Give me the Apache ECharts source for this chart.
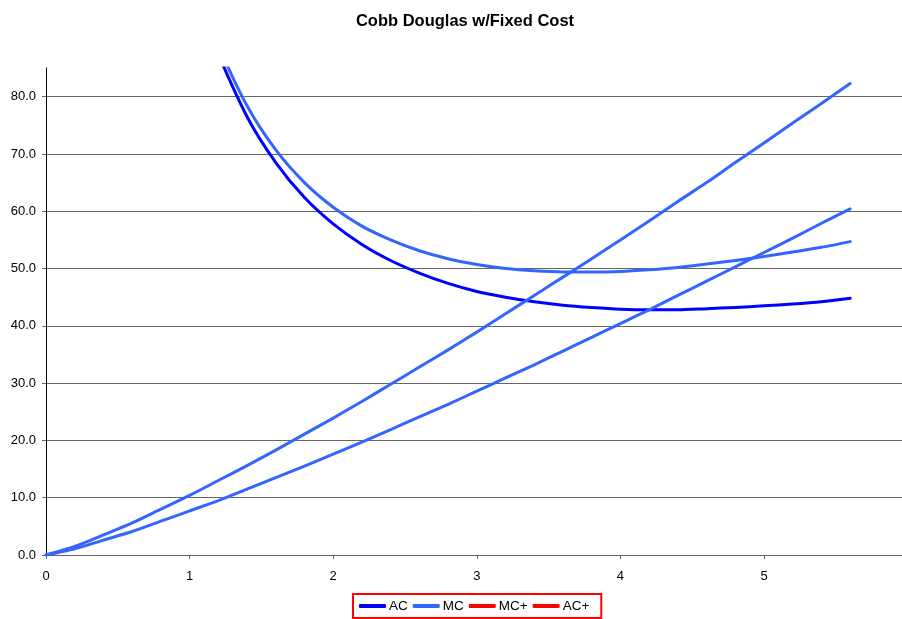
<!DOCTYPE html>
<html>
<head>
<meta charset="utf-8">
<title>Cobb Douglas w/Fixed Cost</title>
<script src="https://cdn.jsdelivr.net/npm/echarts@6/dist/echarts.min.js"></script>
<style>
  html, body { margin: 0; padding: 0; background: #fff; }
  #chart { width: 902px; height: 619px; }
</style>
</head>
<body>
<div id="chart"></div>
<script>
// Output quantity q
const quantity = [0, 0.2, 0.4, 0.6, 0.8, 1.0, 1.2, 1.4, 1.6, 1.8, 2.0, 2.2, 2.4, 2.6, 2.8,
                  3.0, 3.2, 3.4, 3.6, 3.8, 4.0, 4.2, 4.4, 4.6, 4.8, 5.0, 5.2, 5.4, 5.6];

// Average cost (undefined at q = 0)
const acValues = [null, 500.5, 251.1, 168.5, 127.6, 103.4, 87.6, 76.5, 68.5, 62.4, 57.8, 54.2, 51.4, 49.2, 47.4,
                  46.0, 45.0, 44.2, 43.6, 43.2, 42.9, 42.8, 42.8, 43.0, 43.2, 43.5, 43.8, 44.2, 44.8];

// Marginal cost
const mcValues = [0, 1.1, 2.6, 4.1, 5.9, 7.7, 9.5, 11.5, 13.5, 15.5, 17.6, 19.7, 21.9, 24.1, 26.3,
                  28.6, 30.9, 33.2, 35.6, 38.0, 40.4, 42.8, 45.3, 47.8, 50.3, 52.8, 55.3, 57.9, 60.4];

// Marginal cost, higher input price
const mcPlusValues = [0, 1.5, 3.5, 5.6, 8.0, 10.4, 13.0, 15.6, 18.3, 21.1, 23.9, 26.8, 29.8, 32.8, 35.8,
                      38.9, 42.1, 45.3, 48.5, 51.7, 55.0, 58.3, 61.7, 65.0, 68.5, 71.9, 75.4, 78.8, 82.3];

// Average cost, higher input price (undefined at q = 0)
const acPlusValues = [null, 500.7, 251.5, 169.2, 128.6, 104.7, 89.1, 78.4, 70.7, 65.0, 60.7, 57.4, 55.0, 53.1, 51.7,
                      50.7, 50.0, 49.6, 49.4, 49.4, 49.5, 49.8, 50.2, 50.8, 51.4, 52.1, 52.9, 53.7, 54.7];

const xTicks = [0, 1, 2, 3, 4, 5];
const yTicks = [0, 10, 20, 30, 40, 50, 60, 70, 80];

function pairs(values) {
  const out = [];
  quantity.forEach((q, i) => {
    if (values[i] !== null) out.push([q, values[i]]);
  });
  return out;
}

const DARK_BLUE = '#0000FF';
const LIGHT_BLUE = '#3366FF';
const RED = '#FF0000';
const FONT = 'Liberation Sans, Arial, sans-serif';

function lineSeries(name, values, color) {
  return {
    name: name,
    type: 'line',
    data: pairs(values),
    symbol: 'none',
    smooth: 0.25,
    clip: true,
    lineStyle: { color: color, width: 3, cap: 'round', join: 'round' },
    itemStyle: { color: color },
    emphasis: { disabled: true },
    z: 3
  };
}

// Legend keys are flat bars in the key colours
function legendItem(name, color) {
  return { name: name, icon: 'roundRect', itemStyle: { color: color, borderWidth: 0 } };
}

const chart = echarts.init(document.getElementById('chart'), null, { renderer: 'canvas' });

chart.setOption({
  animation: false,
  backgroundColor: '#ffffff',
  title: {
    text: 'Cobb Douglas w/Fixed Cost',
    left: 460,
    textAlign: 'center',
    top: 8,
    textStyle: { fontFamily: FONT, fontSize: 16.5, fontWeight: 'bold', color: '#000' }
  },
  legend: {
    left: 353,
    top: 594,
    orient: 'horizontal',
    padding: [5, 12, 5, 6],
    itemWidth: 27,
    itemHeight: 4,
    itemGap: 5,
    borderColor: RED,
    borderWidth: 2,
    borderRadius: 0,
    selectedMode: false,
    textStyle: { fontFamily: FONT, fontSize: 13.5, color: '#000', padding: [0, 0, 0, -2] },
    data: [
      legendItem('AC', DARK_BLUE),
      legendItem('MC', LIGHT_BLUE),
      legendItem('MC+', RED),
      legendItem('AC+', RED)
    ]
  },
  grid: {
    left: 46,
    top: 68,
    width: 861.6,
    height: 487,
    containLabel: false,
    outerBoundsMode: 'none'
  },
  xAxis: {
    type: 'value',
    min: 0,
    max: 6,
    interval: 1,
    axisLine: { show: true, onZero: false, lineStyle: { color: '#666', width: 1 } },
    axisTick: { show: true, length: 4, inside: false, customValues: xTicks, lineStyle: { color: '#666' } },
    axisLabel: {
      customValues: xTicks,
      margin: 15,
      fontFamily: FONT,
      fontSize: 13,
      color: '#000',
      formatter: v => String(v)
    },
    splitLine: { show: false }
  },
  yAxis: {
    type: 'value',
    min: 0,
    max: 85,
    interval: 10,
    axisLine: { show: true, onZero: false, lineStyle: { color: '#000', width: 1 } },
    axisTick: { show: true, length: 4, inside: false, customValues: yTicks, lineStyle: { color: '#666' } },
    axisLabel: {
      customValues: yTicks,
      margin: 10,
      fontFamily: FONT,
      fontSize: 13,
      color: '#000',
      formatter: v => v.toFixed(1)
    },
    splitLine: {
      show: true,
      showMinLine: false,
      lineStyle: { color: '#666', width: 1 }
    }
  },
  series: [
    lineSeries('AC', acValues, DARK_BLUE),
    lineSeries('MC', mcValues, LIGHT_BLUE),
    lineSeries('MC+', mcPlusValues, LIGHT_BLUE),
    lineSeries('AC+', acPlusValues, LIGHT_BLUE)
  ]
});
</script>
</body>
</html>
